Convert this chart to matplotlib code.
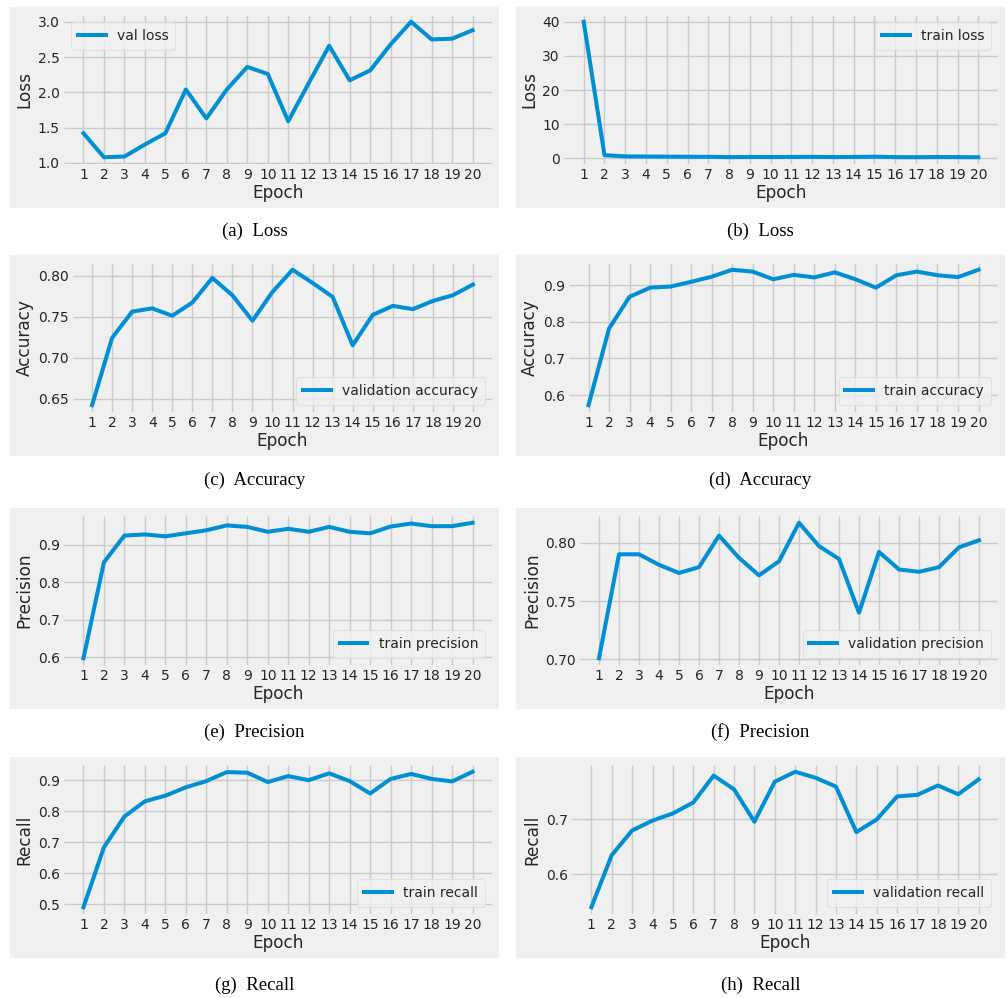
import matplotlib
matplotlib.use("Agg")
import matplotlib.pyplot as plt
from matplotlib.patches import Rectangle
from matplotlib.ticker import FormatStrFormatter

# Training history over 20 epochs
epochs = list(range(1, 21))

val_loss = [1.42, 1.08, 1.09, 1.26, 1.42, 2.04, 1.63, 2.04, 2.36, 2.26,
            1.59, 2.13, 2.66, 2.17, 2.31, 2.68, 3.00, 2.75, 2.76, 2.88]
train_loss = [40.0, 0.95, 0.60, 0.55, 0.52, 0.48, 0.47, 0.38, 0.42, 0.41,
              0.42, 0.45, 0.40, 0.42, 0.50, 0.38, 0.36, 0.40, 0.39, 0.35]
val_acc = [0.642, 0.724, 0.756, 0.760, 0.751, 0.767, 0.797, 0.776, 0.745, 0.780,
           0.807, 0.791, 0.774, 0.715, 0.752, 0.763, 0.759, 0.769, 0.776, 0.789]
train_acc = [0.572, 0.782, 0.869, 0.894, 0.897, 0.910, 0.924, 0.943, 0.938, 0.917,
             0.929, 0.922, 0.936, 0.917, 0.894, 0.928, 0.938, 0.928, 0.923, 0.943]
train_prec = [0.598, 0.853, 0.924, 0.927, 0.922, 0.930, 0.938, 0.951, 0.947, 0.934,
              0.942, 0.934, 0.947, 0.934, 0.930, 0.948, 0.956, 0.949, 0.949, 0.958]
val_prec = [0.701, 0.790, 0.790, 0.781, 0.774, 0.779, 0.806, 0.787, 0.772, 0.784,
            0.817, 0.797, 0.786, 0.740, 0.792, 0.777, 0.775, 0.779, 0.796, 0.802]
train_rec = [0.491, 0.684, 0.783, 0.832, 0.850, 0.877, 0.897, 0.926, 0.924, 0.894,
             0.913, 0.900, 0.922, 0.897, 0.857, 0.904, 0.920, 0.904, 0.896, 0.927]
val_rec = [0.540, 0.635, 0.680, 0.698, 0.711, 0.731, 0.780, 0.755, 0.696, 0.769,
           0.787, 0.776, 0.760, 0.677, 0.700, 0.742, 0.745, 0.762, 0.746, 0.773]

plt.style.use("fivethirtyeight")
plt.rcParams["font.family"] = ["DejaVu Sans"]

W, H = 1008, 998
fig = plt.figure(figsize=(W / 100, H / 100), dpi=100, facecolor="white")

BG = "#f0f0f0"
LINE = "#008fd5"

# (series, legend, y label, y ticks, tick format, legend location, caption)
panels = [
    (val_loss, "val loss", "Loss", [1.0, 1.5, 2.0, 2.5, 3.0], "%.1f", "upper left", "(a)  Loss"),
    (train_loss, "train loss", "Loss", [0, 10, 20, 30, 40], "%d", "upper right", "(b)  Loss"),
    (val_acc, "validation accuracy", "Accuracy", [0.65, 0.70, 0.75, 0.80], "%.2f", "lower right", "(c)  Accuracy"),
    (train_acc, "train accuracy", "Accuracy", [0.6, 0.7, 0.8, 0.9], "%.1f", "lower right", "(d)  Accuracy"),
    (train_prec, "train precision", "Precision", [0.6, 0.7, 0.8, 0.9], "%.1f", "lower right", "(e)  Precision"),
    (val_prec, "validation precision", "Precision", [0.70, 0.75, 0.80], "%.2f", "lower right", "(f)  Precision"),
    (train_rec, "train recall", "Recall", [0.5, 0.6, 0.7, 0.8, 0.9], "%.1f", "lower right", "(g)  Recall"),
    (val_rec, "validation recall", "Recall", [0.6, 0.7], "%.1f", "lower right", "(h)  Recall"),
]

# pixel layout of the panel grid
row_tops = [7, 255, 508, 757]
panel_h = 201
col_x = [(10, 499), (516, 1005)]
ax_left = [64, 564, 73, 569, 64, 580, 64, 572]
ax_right = [492, 998]
caption_y = [231, 480, 732, 985]


def fx(px):
    return px / W


def fy(py):
    return 1 - py / H


for i, (ys, lab, ylab, yt, fmt, loc, cap) in enumerate(panels):
    r, c = divmod(i, 2)
    x0, x1 = col_x[c]
    top = row_tops[r]
    fig.add_artist(Rectangle((fx(x0), fy(top + panel_h)), fx(x1 - x0), panel_h / H,
                             transform=fig.transFigure, facecolor=BG, edgecolor="none",
                             zorder=0))
    left = ax_left[i]
    right = ax_right[c]
    a_top = top + 8
    a_bot = top + 157
    ax = fig.add_axes([fx(left), fy(a_bot), fx(right - left), (a_bot - a_top) / H])
    ax.set_facecolor(BG)
    ax.plot(epochs, ys, color=LINE, lw=2.9, label=lab, solid_capstyle="projecting")
    ax.set_xticks(epochs)
    ax.set_yticks(yt)
    ax.yaxis.set_major_formatter(FormatStrFormatter(fmt))
    ax.tick_params(labelsize=10, colors="#262626", pad=3)
    ax.grid(True, color="#cbcbcb", lw=1.0)
    ax.set_axisbelow(True)
    for s in ax.spines.values():
        s.set_visible(False)
    ax.set_xlabel("Epoch", fontsize=12.2, color="#262626", labelpad=1)
    ax.set_ylabel(ylab, fontsize=12.2, color="#262626", labelpad=3)
    leg = ax.legend(loc=loc, fontsize=10, frameon=True, fancybox=True,
                    handlelength=2.0, borderpad=0.5)
    leg.get_frame().set_facecolor(BG)
    leg.get_frame().set_edgecolor("#dcdcdc")
    leg.get_frame().set_linewidth(0.8)
    for t in leg.get_texts():
        t.set_color("#262626")
    fig.text(fx((x0 + x1) / 2), fy(caption_y[r]), cap, ha="center", va="center",
             fontsize=13.5, family="Liberation Serif", color="black")

fig.savefig("out.png", dpi=100, facecolor="white")
